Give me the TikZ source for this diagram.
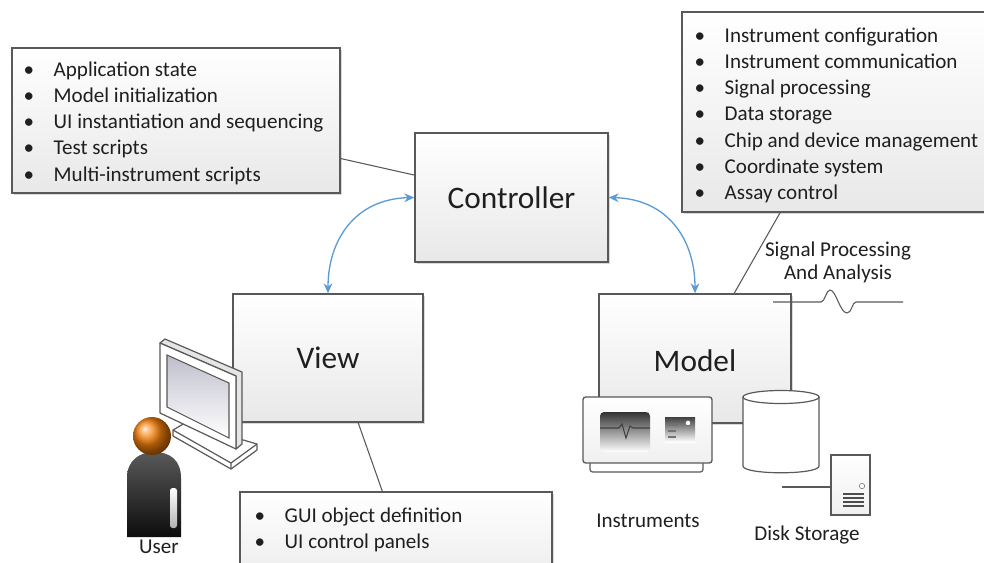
\documentclass[tikz,border=0pt]{standalone}
\usepackage{fontspec}
\setmainfont{Carlito}
\usetikzlibrary{arrows.meta,fit,shadows}

\definecolor{linkgray}{HTML}{595959}
\definecolor{arrowblue}{HTML}{5B9BD5}
\definecolor{textgray}{HTML}{1F1F1F}

\newcommand{\itemfont}{\fontsize{15.8}{19.7}\selectfont}
\newcommand{\partfont}{\fontsize{23.5}{28}\selectfont}
\newcommand{\bulletlist}[1]{\begin{tabular}[t]{@{}p{22.5pt}@{}l@{}}#1\end{tabular}}

\begin{document}
\begin{tikzpicture}[x=0.75pt,y=-0.75pt,font=\itemfont,text=textgray,
  box/.style={draw=linkgray,line width=1pt,top color=white,bottom color=black!9,inner sep=0pt,
    drop shadow={shadow xshift=1.5pt,shadow yshift=-1.5pt,opacity=0.3}},
  device/.style={draw=linkgray,line width=1pt,top color=white,bottom color=black!6,inner sep=0pt},
  devline/.style={draw=linkgray,line width=0.9pt,line join=round},
  link/.style={draw=linkgray,line width=0.8pt},
  flow/.style={draw=arrowblue,line width=1pt,{Stealth[length=7.5pt,width=6.5pt]}-{Stealth[length=7.5pt,width=6.5pt]}}]
\useasboundingbox (0,0) rectangle (984,562);
\clip (0,0) rectangle (984,562);

% controller, view and model
\node[box,fit={(415,133) (608,262)}] (ctrl) {};
\node[font=\partfont] (ctrltext) at (ctrl) {Controller};
\node[box,fit={(233,294) (423,422)}] (view) {};
\node[font=\partfont] (viewtext) at (view) {View};
\node[box,fit={(599,294) (791,423)}] (model) {};
\node[font=\partfont] (modeltext) at ([yshift=-2pt]model.center) {Model};

% responsibility lists
\node[box,fit={(12,48) (340,193)}] (appbox) {};
\node[anchor=base west] (applist) at (19,76) {\bulletlist{
  \textbullet & Application state\\
  \textbullet & Model initialization\\
  \textbullet & UI instantiation and sequencing\\
  \textbullet & Test scripts\\
  \textbullet & Multi-instrument scripts}};
\node[box,fit={(682,12) (1004,212)}] (instbox) {};
\node[anchor=base west] (instlist) at (690,42) {\bulletlist{
  \textbullet & Instrument configuration\\
  \textbullet & Instrument communication\\
  \textbullet & Signal processing\\
  \textbullet & Data storage\\
  \textbullet & Chip and device management\\
  \textbullet & Coordinate system\\
  \textbullet & Assay control}};
\node[box,fit={(240,492) (552,600)}] (guibox) {};
\node[anchor=base west] (guilist) at (250,522) {\bulletlist{
  \textbullet & GUI object definition\\
  \textbullet & UI control panels}};

\draw[link] (appbox.-13.5) -- (ctrl.167);
\draw[link] (view.-65.8) -- (guibox.104.5);
\draw[link] (instbox.-122.2) -- (model.59.5);

\draw[flow] (ctrl.west) .. controls (355,199) and (328,240) .. (view.north);
\draw[flow] (ctrl.east) .. controls (668,199) and (695,240) .. (model.north);

% signal trace
\node[align=center,font=\fontsize{15.8}{17.3}\selectfont] (sigtext) at (838,262) {Signal Processing\\And Analysis};
\draw[link] (773,302) -- (821,302) .. controls (825,302) and (826,290) .. (830,290)
  .. controls (836,290) and (840,313) .. (847,313) .. controls (852,313) and (852,302) .. (856,302) -- (903,302);

% monitor
\draw[devline,fill=white] (173,430) -- (185,423) -- (257,444) -- (257,450) -- (231,469) -- (173,436) -- cycle;
\draw[devline] (173,430) -- (231,463) -- (257,444) (231,463) -- (231,469);
\draw[devline,fill=gray!20] (160,343) -- (165,339) -- (242,372) -- (242,444) -- (236,449) -- (236,376) -- cycle;
\draw[devline,fill=white] (160,343) -- (236,376) -- (236,449) -- (160,413) -- cycle;
\shade[top color=blue!12!gray!45,bottom color=white,draw=linkgray,line width=0.8pt]
  (167,355) -- (229,383) -- (229,438) -- (167,407) -- cycle;

% user
\shade[top color=black!65,bottom color=black!95] (127,537) -- (127,478) .. controls (127,460) and (140,452) .. (154,452)
  .. controls (170,452) and (181,460) .. (181,478) -- (181,537) -- cycle;
\shade[top color=white,bottom color=gray!60,rounded corners=2pt] (170,488) rectangle (177,528);
\shade[ball color=orange!85!brown] (152,436) circle[radius=19];
\node (usertext) at (159,547) {User};

% instruments
\draw[devline,fill=white,rounded corners=2pt] (590,460) rectangle (703,472);
\node[device,rounded corners=2pt,fit={(583,397) (712,463)}] (instr) {};
\shade[top color=black!80,bottom color=white,rounded corners=3pt] (600,412) rectangle (650,452);
\draw[black!75,line width=0.8pt] (600,428) -- (619,428) -- (622,424) -- (626,438) -- (630,426) -- (633,428) -- (650,428);
\shade[top color=black!75,bottom color=white] (665,417) rectangle (695,442);
\draw[black!55,line width=1.2pt] (668,425) -- (678,425) (668,431) -- (676,431) (668,437) -- (676,437);
\draw[black!60,fill=white] (688,423) circle[radius=2pt];
\node (instrtext) at (648,521) {Instruments};

% disk storage
\draw[devline,fill=white] (743,397) -- (743,466) .. controls (743,475) and (819,475) .. (819,466) -- (819,397) -- cycle;
\draw[devline,fill=white] (781,397) ellipse[x radius=38,y radius=6.5];
\node[device,drop shadow={shadow xshift=1pt,shadow yshift=-1pt,opacity=0.3},fit={(831,455) (870,515)}] (server) {};
\draw[black!60,fill=white] (862,486) circle[radius=2pt];
\foreach \y in {494,498,502,506}
  \draw[black!70,line width=1.8pt] (843,\y) -- (864,\y);
\coordinate (disklink) at (782,487);
\draw[link] (disklink) -- (disklink -| server.west);
\node (disktext) at (807,535) {Disk Storage};
\end{tikzpicture}
\end{document}
